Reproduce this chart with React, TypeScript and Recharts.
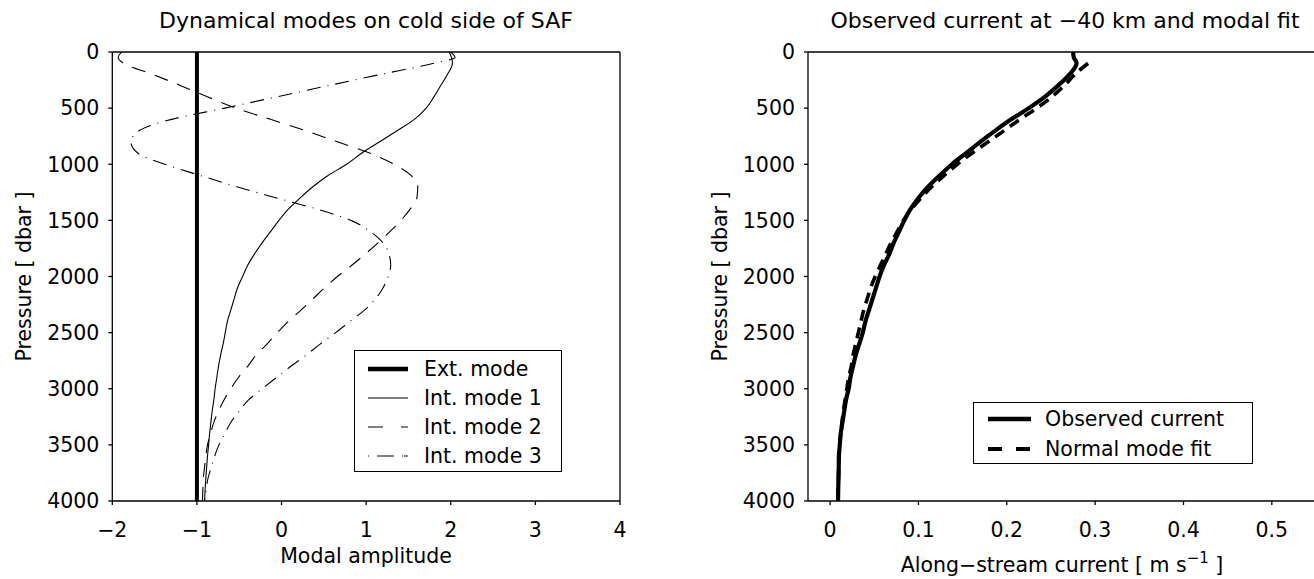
import React from "react";
import { LineChart, Line, XAxis, YAxis, Legend } from "recharts";

const FONT = "'DejaVu Sans', sans-serif";
const FS = 20.5;

// pressure levels (dbar) shared by the profiles
const PRESSURE = [
  0, 50, 100, 200, 300, 400, 500, 600, 700, 800, 900, 1000, 1100, 1200, 1300,
  1400, 1500, 1600, 1700, 1800, 1900, 2000, 2100, 2200, 2300, 2400, 2500, 2600,
  2700, 2800, 2900, 3000, 3100, 3200, 3300, 3400, 3500, 3600, 3700, 3800, 3900,
  4000,
];

// left panel: dynamical modes
const EXT_PRESSURE = [0, 4000];
const EXT_MODE = [-1, -1];
const INT_MODE_1 = [
  1.98, 2.01, 2.02, 1.96, 1.88, 1.8, 1.71, 1.57, 1.37, 1.16, 0.95, 0.77, 0.55,
  0.37, 0.22, 0.08, -0.03, -0.13, -0.23, -0.32, -0.4, -0.46, -0.52, -0.56, -0.6,
  -0.64, -0.665, -0.69, -0.72, -0.745, -0.765, -0.785, -0.8, -0.82, -0.835,
  -0.85, -0.862, -0.875, -0.885, -0.895, -0.903, -0.91,
];
const INT_MODE_2 = [
  -1.89, -1.93, -1.87, -1.52, -1.19, -0.87, -0.54, -0.13, 0.28, 0.66, 1.04, 1.33,
  1.53, 1.61, 1.6, 1.52, 1.41, 1.28, 1.14, 0.99, 0.83, 0.66, 0.51, 0.37, 0.23,
  0.08, -0.05, -0.17, -0.3, -0.4, -0.51, -0.6, -0.68, -0.745, -0.8, -0.84,
  -0.875, -0.895, -0.91, -0.925, -0.93, -0.935,
];
const INT_MODE_3 = [
  2.0, 2.05, 1.8, 1.17, 0.55, -0.06, -0.67, -1.3, -1.68, -1.78, -1.7, -1.38,
  -0.96, -0.53, -0.06, 0.42, 0.82, 1.05, 1.2, 1.27, 1.29, 1.26, 1.2, 1.11, 0.98,
  0.81, 0.64, 0.46, 0.29, 0.11, -0.06, -0.23, -0.39, -0.5, -0.6, -0.67, -0.74,
  -0.79, -0.83, -0.87, -0.89, -0.91,
];

// right panel: observed current and fit (m/s)
const OBSERVED = [
  0.275, 0.276, 0.279, 0.271, 0.258, 0.243, 0.225, 0.205, 0.187, 0.17, 0.154,
  0.138, 0.124, 0.111, 0.1, 0.091, 0.084, 0.078, 0.072, 0.067, 0.061, 0.056,
  0.052, 0.048, 0.044, 0.04, 0.037, 0.033, 0.029, 0.026, 0.023, 0.021, 0.018,
  0.016, 0.014, 0.012, 0.011, 0.01, 0.0098, 0.0095, 0.0092, 0.009,
];
const MODE_FIT = [
  null, null, 0.292, 0.277, 0.265, 0.251, 0.234, 0.215, 0.197, 0.179, 0.161,
  0.144, 0.129, 0.115, 0.103, 0.092, 0.083, 0.076, 0.069, 0.063, 0.057, 0.051,
  0.046, 0.042, 0.038, 0.035, 0.032, 0.029, 0.026, 0.024, 0.021, 0.019, 0.017,
  0.015, 0.0135, 0.012, 0.011, 0.01, 0.0098, 0.0095, 0.0092, 0.009,
];

const P_TICKS = [0, 500, 1000, 1500, 2000, 2500, 3000, 3500, 4000];
const AMP_TICKS = [-2, -1, 0, 1, 2, 3, 4];
const CUR_TICKS = [0, 0.1, 0.2, 0.3, 0.4, 0.5];

const leftRows = PRESSURE.map((p, i) => ({
  p,
  m1: INT_MODE_1[i],
  m2: INT_MODE_2[i],
  m3: INT_MODE_3[i],
}));
const extRows = EXT_PRESSURE.map((p, i) => ({ p, ext: EXT_MODE[i] }));
const rightRows = PRESSURE.map((p, i) => ({
  p,
  obs: OBSERVED[i],
  fit: MODE_FIT[i],
}));

const fmt = (v: number) => (v < 0 ? `\u2212${-v}` : String(v));

const axisLine = { stroke: "#000", strokeWidth: 1.3 };
const tickStyle = { fill: "#000", fontSize: FS, fontFamily: FONT };

const LEFT_LEGEND = [
  { name: "Ext. mode", width: 4.5, dash: undefined },
  { name: "Int. mode 1", width: 1.1, dash: undefined },
  { name: "Int. mode 2", width: 1.1, dash: "15 18" },
  { name: "Int. mode 3", width: 1.1, dash: "1 8 17 8 1" },
];
const RIGHT_LEGEND = [
  { name: "Observed current", width: 4.5, dash: undefined },
  { name: "Normal mode fit", width: 4, dash: "14 14" },
];

const LegendBox = ({
  items,
  width,
  height,
  rowTop,
  rowStep,
  sampleX,
  sampleW,
  textX,
}: any) => (
  <div
    style={{
      position: "relative",
      width,
      height,
      border: "1.5px solid #000",
      boxSizing: "border-box",
      background: "#fff",
      fontFamily: FONT,
      fontSize: FS,
      color: "#000",
    }}
  >
    {items.map((it: any, i: number) => {
      const cy = rowTop + i * rowStep;
      return (
        <React.Fragment key={it.name}>
          <svg
            width={sampleW}
            height={10}
            style={{ position: "absolute", left: sampleX, top: cy - 5 }}
          >
            <line
              x1={0}
              y1={5}
              x2={sampleW}
              y2={5}
              stroke="#000"
              strokeWidth={it.width}
              strokeDasharray={it.dash}
            />
          </svg>
          <div
            style={{
              position: "absolute",
              left: textX,
              top: cy - 13,
              lineHeight: "26px",
              whiteSpace: "nowrap",
            }}
          >
            {it.name}
          </div>
        </React.Fragment>
      );
    })}
  </div>
);

export default function App() {
  return (
    <div
      style={{
        position: "absolute",
        left: 0,
        top: 0,
        width: 1314,
        height: 579,
        overflow: "hidden",
        background: "#fff",
        fontFamily: FONT,
      }}
    >
      <div style={{ position: "absolute", left: 0, top: 0 }}>
        <LineChart
          layout="vertical"
          width={660}
          height={579}
          data={leftRows}
          margin={{ top: 0, right: 0, bottom: 0, left: 0 }}
        >
          <XAxis
            type="number"
            domain={[-2, 4]}
            ticks={AMP_TICKS}
            tickFormatter={fmt}
            height={78}
            axisLine={axisLine}
            tickLine={axisLine}
            tickSize={4}
            tickMargin={17}
            tick={tickStyle}
            allowDataOverflow
          />
          <XAxis
            xAxisId="top"
            orientation="top"
            type="number"
            domain={[-2, 4]}
            ticks={AMP_TICKS}
            height={52}
            axisLine={axisLine}
            tickLine={axisLine}
            tickSize={4}
            tick={false}
            allowDataOverflow
          />
          <YAxis
            type="number"
            dataKey="p"
            domain={[0, 4000]}
            ticks={P_TICKS}
            width={112.3}
            axisLine={axisLine}
            tickLine={axisLine}
            tickSize={4}
            tickMargin={9}
            tick={tickStyle}
            allowDataOverflow
          />
          <YAxis
            yAxisId="right"
            orientation="right"
            type="number"
            dataKey="p"
            domain={[0, 4000]}
            ticks={P_TICKS}
            width={40}
            axisLine={axisLine}
            tickLine={axisLine}
            tickSize={4}
            tick={false}
            allowDataOverflow
          />
          <Line
            data={extRows}
            dataKey="ext"
            name="Ext. mode"
            stroke="#000"
            strokeWidth={4}
            dot={false}
            isAnimationActive={false}
          />
          <Line
            dataKey="m1"
            name="Int. mode 1"
            type="monotone"
            stroke="#000"
            strokeWidth={1.1}
            dot={false}
            isAnimationActive={false}
          />
          <Line
            dataKey="m2"
            name="Int. mode 2"
            type="monotone"
            stroke="#000"
            strokeWidth={1.1}
            strokeDasharray="14 10"
            dot={false}
            isAnimationActive={false}
          />
          <Line
            dataKey="m3"
            name="Int. mode 3"
            type="monotone"
            stroke="#000"
            strokeWidth={1.1}
            strokeDasharray="14 7 1 7"
            dot={false}
            isAnimationActive={false}
          />
          <Legend
            layout="horizontal"
            verticalAlign="middle"
            align="center"
            wrapperStyle={{ left: 354, top: 350, width: 208, height: 122 }}
            content={() => (
              <LegendBox
                items={LEFT_LEGEND}
                width={208}
                height={122}
                rowTop={18}
                rowStep={29}
                sampleX={13}
                sampleW={40}
                textX={69}
              />
            )}
          />
        </LineChart>
      </div>

      <div style={{ position: "absolute", left: 696, top: 0 }}>
        <LineChart
          layout="vertical"
          width={620}
          height={579}
          data={rightRows}
          margin={{ top: 0, right: 0, bottom: 0, left: 0 }}
        >
          <XAxis
            type="number"
            domain={[-0.025, 0.55]}
            ticks={CUR_TICKS}
            tickFormatter={fmt}
            height={78}
            axisLine={axisLine}
            tickLine={axisLine}
            tickSize={4}
            tickMargin={17}
            tick={tickStyle}
            allowDataOverflow
          />
          <XAxis
            xAxisId="top"
            orientation="top"
            type="number"
            domain={[-0.025, 0.55]}
            ticks={CUR_TICKS}
            height={52}
            axisLine={axisLine}
            tickLine={axisLine}
            tickSize={4}
            tick={false}
            allowDataOverflow
          />
          <YAxis
            type="number"
            dataKey="p"
            domain={[0, 4000]}
            ticks={P_TICKS}
            width={112}
            axisLine={axisLine}
            tickLine={axisLine}
            tickSize={4}
            tickMargin={9}
            tick={tickStyle}
            allowDataOverflow
          />
          <Line
            dataKey="fit"
            name="Normal mode fit"
            type="monotone"
            stroke="#000"
            strokeWidth={3.6}
            strokeDasharray="11 7"
            dot={false}
            isAnimationActive={false}
          />
          <Line
            dataKey="obs"
            name="Observed current"
            type="monotone"
            stroke="#000"
            strokeWidth={4.2}
            dot={false}
            isAnimationActive={false}
          />
          <Legend
            layout="horizontal"
            verticalAlign="middle"
            align="center"
            wrapperStyle={{ left: 277, top: 402, width: 280, height: 62 }}
            content={() => (
              <LegendBox
                items={RIGHT_LEGEND}
                width={280}
                height={62}
                rowTop={16}
                rowStep={30}
                sampleX={14}
                sampleW={43}
                textX={71}
              />
            )}
          />
        </LineChart>
      </div>

      <svg
        width={1314}
        height={579}
        style={{ position: "absolute", left: 0, top: 0, pointerEvents: "none" }}
        fontFamily={FONT}
        fill="#000"
      >
        <text x={366} y={28} textAnchor="middle" fontSize={22}>
          Dynamical modes on cold side of SAF
        </text>
        <text x={1065} y={28} textAnchor="middle" fontSize={22}>
          Observed current at −40 km and modal fit
        </text>
        <text
          x={0}
          y={0}
          textAnchor="middle"
          dominantBaseline="central"
          fontSize={FS}
          transform="translate(24 276.5) rotate(-90)"
        >
          Pressure [ dbar ]
        </text>
        <text
          x={0}
          y={0}
          textAnchor="middle"
          dominantBaseline="central"
          fontSize={FS}
          transform="translate(720 276.5) rotate(-90)"
        >
          Pressure [ dbar ]
        </text>
        <text x={366} y={563} textAnchor="middle" fontSize={FS}>
          Modal amplitude
        </text>
        <text x={1062} y={572} textAnchor="middle" fontSize={FS}>
          Along−stream current [ m s
          <tspan dy={-9} fontSize={15}>
            −1
          </tspan>
          <tspan dy={9}> ]</tspan>
        </text>
      </svg>
    </div>
  );
}
